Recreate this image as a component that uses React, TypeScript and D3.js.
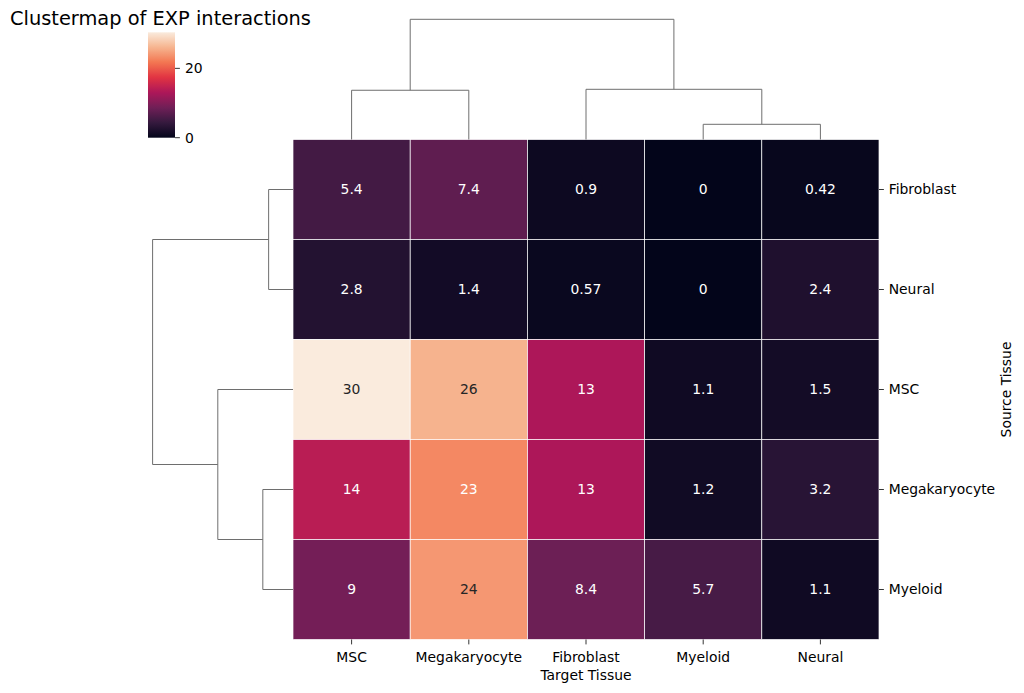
import * as d3 from 'd3';
import React from 'react';

// Interaction counts, rows = source tissue, cols = target tissue (clustered order)
const colLabels = ['MSC', 'Megakaryocyte', 'Fibroblast', 'Myeloid', 'Neural'];
const rowLabels = ['Fibroblast', 'Neural', 'MSC', 'Megakaryocyte', 'Myeloid'];
const fibroblastRow = [5.4, 7.4, 0.9, 0, 0.42];
const neuralRow = [2.8, 1.4, 0.57, 0, 2.4];
const mscRow = [30.4, 26, 13, 1.1, 1.5];
const megakaryocyteRow = [14, 23, 13, 1.2, 3.2];
const myeloidRow = [9, 24, 8.4, 5.7, 1.1];
const values = [fibroblastRow, neuralRow, mscRow, megakaryocyteRow, myeloidRow];

// scipy-style linkage: [left, right, distance], new clusters numbered from n
const rowLinkage = [
    [0, 1, 6.84],
    [3, 4, 8.47],
    [2, 6, 21.1],
    [5, 7, 39.4],
];
const colLinkage = [
    [3, 4, 5.59],
    [0, 1, 18.11],
    [2, 5, 18.46],
    [6, 7, 44.2],
];

const colorbarTicks = [0, 20];

// seaborn "rocket" colormap anchor points
const rocketStops = [0, 1 / 7, 2 / 7, 3 / 7, 4 / 7, 5 / 7, 6 / 7, 1];
const rocketColors = ['#03051a', '#35193e', '#701f57', '#ad1759', '#e13342', '#f37651', '#f6b48f', '#faebdd'];

const FONT = '"DejaVu Sans", sans-serif';
const TICK_FS = 13.9;
const TREE_COLOR = '#6e6e6e';

const heat = { left: 293, right: 879, top: 139.5, bottom: 639.5 };
const cbar = { left: 148, right: 175, top: 32.3, bottom: 137.7 };

const rocket = d3.scaleLinear<string>().domain(rocketStops).range(rocketColors).interpolate(d3.interpolateRgb);
const vmax = d3.max(values.flat()) as number;
const colorOf = (v: number) => rocket(v / vmax);

function textColor(fill: string) {
    const c = d3.rgb(fill);
    const lin = (x: number) => {
        const s = x / 255;
        return s <= 0.03928 ? s / 12.92 : Math.pow((s + 0.055) / 1.055, 2.4);
    };
    const lum = 0.2126 * lin(c.r) + 0.7152 * lin(c.g) + 0.0722 * lin(c.b);
    return lum > 0.408 ? '#262626' : '#ffffff';
}

const fmt = d3.format('.2~g');

// Turn a linkage table into U-shaped link segments
function treeSegments(linkage: number[][], leafPos: (i: number) => number, n: number) {
    const pos: number[] = [];
    const height: number[] = [];
    for (let i = 0; i < n; i++) {
        pos[i] = leafPos(i);
        height[i] = 0;
    }
    return linkage.map(([a, b, dist], k) => {
        const id = n + k;
        pos[id] = (pos[a] + pos[b]) / 2;
        height[id] = dist;
        return { p1: pos[a], h1: height[a], p2: pos[b], h2: height[b], h: dist };
    });
}

const App = () => {
    const x = d3.scaleBand().domain(colLabels).range([heat.left, heat.right]);
    const y = d3.scaleBand().domain(rowLabels).range([heat.top, heat.bottom]);

    const rowMax = d3.max(rowLinkage, d => d[2]) as number;
    const colMax = d3.max(colLinkage, d => d[2]) as number;
    const rowTreeX = d3.scaleLinear().domain([0, rowMax * 1.05]).range([heat.left, heat.left - 140.4 * 1.05]);
    const colTreeY = d3.scaleLinear().domain([0, colMax * 1.05]).range([heat.top, heat.top - 120.2 * 1.05]);

    const rowSegs = treeSegments(rowLinkage, i => (y(rowLabels[i]) as number) + y.bandwidth() / 2, rowLabels.length);
    const colSegs = treeSegments(colLinkage, i => (x(colLabels[i]) as number) + x.bandwidth() / 2, colLabels.length);

    const cbarY = d3.scaleLinear().domain([0, vmax]).range([cbar.bottom, cbar.top]);
    const gradStops = d3.range(0, 1.0001, 0.02);

    return (
        <div style={{ position: 'absolute', left: 0, top: 0 }}>
            <svg width={1024} height={693} style={{ display: 'block', background: '#fff' }} fontFamily={FONT}>
                <defs>
                    <linearGradient id="rocket-grad" x1="0" y1="1" x2="0" y2="0">
                        {gradStops.map(t => (
                            <stop key={t} offset={t} stopColor={rocket(t)} />
                        ))}
                    </linearGradient>
                </defs>

                <text x={10} y={25} fontSize={19.4} fill="#000">Clustermap of EXP interactions</text>

                {/* colorbar */}
                <rect x={cbar.left} y={cbar.top} width={cbar.right - cbar.left} height={cbar.bottom - cbar.top} fill="url(#rocket-grad)" />
                {colorbarTicks.map(t => (
                    <g key={t} transform={`translate(${cbar.right},${cbarY(t)})`}>
                        <line x1={0} x2={4.9} stroke="#000" strokeWidth={0.8} />
                        <text x={10} dy="0.35em" fontSize={TICK_FS} fill="#000">{t}</text>
                    </g>
                ))}

                {/* heatmap cells */}
                {values.map((row, i) =>
                    row.map((v, j) => {
                        const fill = colorOf(v);
                        const cx = (x(colLabels[j]) as number);
                        const cy = (y(rowLabels[i]) as number);
                        return (
                            <g key={`${i}-${j}`}>
                                <rect x={cx} y={cy} width={x.bandwidth()} height={y.bandwidth()} fill={fill} stroke="#fff" strokeWidth={0.7} />
                                <text
                                    x={cx + x.bandwidth() / 2}
                                    y={cy + y.bandwidth() / 2}
                                    dy="0.35em"
                                    textAnchor="middle"
                                    fontSize={TICK_FS}
                                    fill={textColor(fill)}
                                >
                                    {fmt(v)}
                                </text>
                            </g>
                        );
                    })
                )}

                {/* row dendrogram */}
                {rowSegs.map((s, k) => (
                    <path
                        key={`r${k}`}
                        d={`M${rowTreeX(s.h1)},${s.p1}H${rowTreeX(s.h)}V${s.p2}H${rowTreeX(s.h2)}`}
                        fill="none"
                        stroke={TREE_COLOR}
                        strokeWidth={1}
                    />
                ))}

                {/* column dendrogram */}
                {colSegs.map((s, k) => (
                    <path
                        key={`c${k}`}
                        d={`M${s.p1},${colTreeY(s.h1)}V${colTreeY(s.h)}H${s.p2}V${colTreeY(s.h2)}`}
                        fill="none"
                        stroke={TREE_COLOR}
                        strokeWidth={1}
                    />
                ))}

                {/* x axis */}
                {colLabels.map(c => {
                    const cx = (x(c) as number) + x.bandwidth() / 2;
                    return (
                        <g key={c} transform={`translate(${cx},${heat.bottom})`}>
                            <line y1={0} y2={4.9} stroke="#000" strokeWidth={0.8} />
                            <text y={22} textAnchor="middle" fontSize={TICK_FS} fill="#000">{c}</text>
                        </g>
                    );
                })}
                <text x={(heat.left + heat.right) / 2} y={680} textAnchor="middle" fontSize={TICK_FS} fill="#000">Target Tissue</text>

                {/* y axis on the right */}
                {rowLabels.map(r => {
                    const cy = (y(r) as number) + y.bandwidth() / 2;
                    return (
                        <g key={r} transform={`translate(${heat.right},${cy})`}>
                            <line x1={0} x2={4.9} stroke="#000" strokeWidth={0.8} />
                            <text x={9.7} dy="0.35em" fontSize={TICK_FS} fill="#000">{r}</text>
                        </g>
                    );
                })}
                <text
                    transform={`translate(1010.5,${(heat.top + heat.bottom) / 2}) rotate(-90)`}
                    textAnchor="middle"
                    fontSize={TICK_FS}
                    fill="#000"
                >
                    Source Tissue
                </text>
            </svg>
        </div>
    );
};

export default App;
